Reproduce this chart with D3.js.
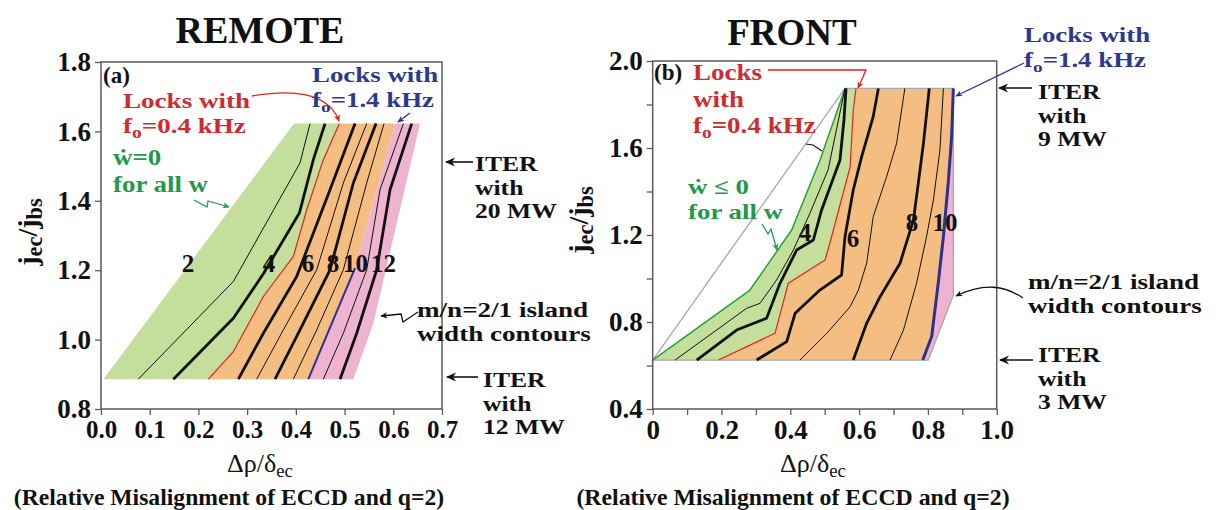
<!DOCTYPE html>
<html><head><meta charset="utf-8">
<script src="https://cdn.jsdelivr.net/npm/d3@7"></script>
<style>body{margin:0;background:#fff}svg{display:block}</style>
</head><body><svg id="c" width="1219" height="510"></svg>
<script>
// ---------------- DATA ----------------
// Panel (a) REMOTE
const remoteXTicks = [0, 0.1, 0.2, 0.3, 0.4, 0.5, 0.6, 0.7];
const remoteXLabels = ["0.0","0.1","0.2","0.3","0.4","0.5","0.6","0.7"];
const remoteYTicks = [0.8, 1.0, 1.2, 1.4, 1.6, 1.8];
const remoteYLabels = ["0.8","1.0","1.2","1.4","1.6","1.8"];
const remoteLeftEdge = [[0.005,0.886],[0.396,1.6225]];
const remoteRed = [[0.2203,0.886],[0.2717,0.9655],[0.3333,1.1242],[0.3948,1.2396],[0.4223,1.3743],[0.4564,1.5186],[0.4893,1.6225]];
const remoteBlueEdge = [[0.4256,0.886],[0.5215,1.206],[0.6036,1.6225]];
const remoteBlueVisible = [[0.4256,0.886],[0.5215,1.206]];
const remoteRightEdge = [[0.5180,0.886],[0.5591,1.0473],[0.6549,1.6225]];
const remoteC1 = [[0.0766,0.886],[0.2717,1.1675],[0.4085,1.509],[0.4291,1.6225]];
const remoteC2 = [[0.1485,0.886],[0.2717,1.0617],[0.3333,1.1896],[0.4072,1.3647],[0.4359,1.5186],[0.4599,1.6225]];
const remoteC3 = [[0.2819,0.886],[0.3333,1.0184],[0.4017,1.1819],[0.4701,1.432],[0.5215,1.6225]];
const remoteC4 = [[0.3196,0.886],[0.3743,1.028],[0.4428,1.2012],[0.4975,1.4513],[0.5454,1.6225]];
const remoteC5 = [[0.3572,0.886],[0.4085,1.028],[0.4701,1.2012],[0.5180,1.4513],[0.5646,1.6225]];
const remoteC6 = [[0.3948,0.886],[0.4428,1.028],[0.4975,1.2012],[0.5454,1.4513],[0.5810,1.6225]];
const remoteC7 = [[0.4564,0.886],[0.4975,1.0184],[0.5454,1.2012],[0.5728,1.432],[0.6207,1.6225]];
const remoteC8 = [[0.4907,0.886],[0.5249,1.0184],[0.5660,1.2012],[0.5933,1.432],[0.6378,1.6225]];
const remoteContourLabels = ["2","4","6","8","10","12"];
const remoteLabelX = [0.1786,0.3449,0.425,0.4763,0.5225,0.5800];
const remoteLabelY = 1.195;

// Panel (b) FRONT
const frontXMajor = [0, 0.2, 0.4, 0.6, 0.8, 1.0];
const frontXLabels = ["0","0.2","0.4","0.6","0.8","1.0"];
const frontXMinor = [0.1, 0.3, 0.5, 0.7, 0.9];
const frontYMajor = [0.4, 0.8, 1.2, 1.6, 2.0];
const frontYLabels = ["0.4","0.8","1.2","1.6","2.0"];
const frontYMinor = [0.6, 1.0, 1.4, 1.8];
const frontGrayEdge = [[0,0.625],[0.559,1.874]];
const frontGreenEdge = [[0,0.625],[0.2828,0.947],[0.404,1.223],[0.4864,1.5448],[0.559,1.874]];
const frontRed = [[0.191,0.625],[0.3555,0.748],[0.394,0.978],[0.501,1.085],[0.52,1.192],[0.574,1.514],[0.583,1.775],[0.591,1.874]];
const frontBlue = [[0.785,0.625],[0.811,0.733],[0.83,0.978],[0.845,1.192],[0.859,1.4375],[0.869,1.652],[0.874,1.874]];
const frontRightEdge = [[0.801,0.625],[0.874,0.924],[0.874,1.874]];
const frontC1 = [[0.065,0.625],[0.273,0.863],[0.312,0.886],[0.36,0.993],[0.409,1.131],[0.457,1.30],[0.51,1.50],[0.559,1.874]];
const frontC2 = [[0.128,0.625],[0.244,0.763],[0.331,0.817],[0.370,0.978],[0.4185,1.131],[0.467,1.177],[0.491,1.315],[0.5445,1.545],[0.556,1.729],[0.562,1.874]];
const frontC3 = [[0.302,0.625],[0.3895,0.71],[0.414,0.84],[0.486,0.947],[0.549,1.016],[0.559,1.192],[0.583,1.407],[0.6075,1.56],[0.641,1.744],[0.656,1.874]];
const frontC4 = [[0.428,0.625],[0.506,0.748],[0.574,0.87],[0.598,0.947],[0.622,1.07],[0.641,1.284],[0.68,1.468],[0.709,1.6215],[0.733,1.874]];
const frontC5 = [[0.583,0.625],[0.622,0.794],[0.661,0.9165],[0.719,1.07],[0.758,1.269],[0.772,1.4375],[0.787,1.6215],[0.804,1.874]];
const frontC6 = [[0.69,0.625],[0.729,0.763],[0.767,0.978],[0.796,1.192],[0.816,1.361],[0.835,1.591],[0.845,1.874]];
const frontContourLabels = ["4","6","8","10"];
const frontLabelX = [0.4427,0.5823,0.7538,0.8497];
const frontLabelY = [1.172,1.145,1.218,1.218];

// ---------------- STYLE ----------------
const FONT = '"Liberation Serif","Times New Roman",serif';
const C = {green:"#c4de9c", orange:"#f4bd82", pink:"#eeb3cf", red:"#e2231a", blue:"#2e3192",
           gEdge:"#25a23a", tRed:"#d12a2f", tBlue:"#2b3a8c", tGreen:"#1f9a48", axis:"#5a5a5a", gray:"#a8a8a8"};

const svg = d3.select("#c");
svg.append("rect").attr("width",1219).attr("height",510).attr("fill","#fff");
const defs = svg.append("defs");
function marker(id, color, w, h){
  defs.append("marker").attr("id",id).attr("viewBox","0 0 10 10").attr("refX",9).attr("refY",5)
    .attr("markerWidth",w).attr("markerHeight",h).attr("markerUnits","userSpaceOnUse").attr("orient","auto")
    .append("path").attr("d","M0,0.5 L10,5 L0,9.5 L3,5 z").attr("fill",color);
}
marker("mRed",C.red,8,7); marker("mBlue",C.blue,8,7); marker("mGreen",C.tGreen,8,7); marker("mBlack","#111",8,7);
marker("mBlackBig","#111",12,10);

// stacked lines, one text element per line, horizontally stretched by sx.
function stack(g, x, y0, rows, dy, o){
  rows.forEach((row,i)=>{
    const t = g.append("text")
      .attr("transform", `translate(${x},${y0+i*dy}) scale(${o.sx||1},1)`)
      .attr("font-family",FONT).attr("font-size",o.size).attr("font-weight",o.weight||"bold")
      .attr("fill",o.fill||"#111").attr("text-anchor",o.anchor||"start");
    let cur = 0;
    row.forEach(s=>{
      const txt = typeof s==="string" ? s : s[0];
      const sh = typeof s==="string" ? 0 : s[1];
      const sf = typeof s==="string" ? 1 : s[2];
      const ts = t.append("tspan").attr("dy", sh-cur).text(txt);
      if (sf!==1) ts.attr("font-size", o.size*sf);
      cur = sh;
    });
  });
}

function panel(cfg){
  const g = svg.append("g");
  const x = d3.scaleLinear().domain(cfg.xd).range(cfg.xr);
  const y = d3.scaleLinear().domain(cfg.yd).range(cfg.yr);
  const line = d3.line().x(d=>x(d[0])).y(d=>y(d[1]));
  const area = pts => line(pts)+"Z";
  cfg.regions.forEach(r=>g.append("path").attr("d",area(r.pts)).attr("fill",r.fill).attr("stroke","none"));
  if (cfg.outline) g.append("path").attr("d",area(cfg.outline)).attr("fill","none").attr("stroke",C.gray).attr("stroke-width",1.3);
  cfg.lines.forEach(l=>g.append("path").attr("d",line(l.pts)).attr("fill","none")
    .attr("stroke",l.color||"#111").attr("stroke-width",l.w).attr("stroke-linejoin","round"));
  cfg.labels.forEach(l=>g.append("text").attr("x",x(l.x)).attr("y",y(l.y)).attr("text-anchor","middle")
    .attr("font-family",FONT).attr("font-weight","bold").attr("font-size",25).attr("fill","#111").text(l.t));
  g.append("rect").attr("x",cfg.xr[0]).attr("y",cfg.yr[1]).attr("width",cfg.xr[1]-cfg.xr[0])
    .attr("height",cfg.yr[0]-cfg.yr[1]).attr("fill","none").attr("stroke",C.axis).attr("stroke-width",1.5);
  const xa = g.append("g").attr("transform",`translate(0,${cfg.yr[0]})`)
    .call(d3.axisBottom(x).tickValues(cfg.xt).tickSize(6).tickPadding(5).tickFormat((d,i)=>cfg.xl[i]));
  const ya = g.append("g").attr("transform",`translate(${cfg.xr[0]},0)`)
    .call(d3.axisLeft(y).tickValues(cfg.yt).tickSize(6).tickPadding(4).tickFormat((d,i)=>cfg.yl[i]));
  if (cfg.xm) g.append("g").attr("transform",`translate(0,${cfg.yr[0]})`).call(d3.axisBottom(x).tickValues(cfg.xm).tickSize(6).tickFormat(""));
  if (cfg.ym) g.append("g").attr("transform",`translate(${cfg.xr[0]},0)`).call(d3.axisLeft(y).tickValues(cfg.ym).tickSize(6).tickFormat(""));
  g.selectAll(".domain").remove();
  g.selectAll(".tick line").attr("stroke",C.axis).attr("stroke-width",1.3);
  xa.selectAll("text").attr("font-family",FONT).attr("font-weight","bold").attr("font-size",cfg.xfs).attr("fill","#111");
  ya.selectAll("text").attr("font-family",FONT).attr("font-weight","bold").attr("font-size",27).attr("fill","#111");
  return {g,x,y};
}

// ---------- Panel (a) ----------
panel({
  xd:[0,0.7], xr:[101,442], yd:[0.8,1.8], yr:[409,62], xfs:25,
  xt:remoteXTicks, xl:remoteXLabels, yt:remoteYTicks, yl:remoteYLabels,
  regions:[
    {pts:[...remoteLeftEdge, ...remoteRed.slice().reverse()], fill:C.green},
    {pts:[...remoteRed, ...remoteBlueEdge.slice().reverse()], fill:C.orange},
    {pts:[...remoteBlueEdge, ...remoteRightEdge.slice().reverse()], fill:C.pink}
  ],
  lines:[
    {pts:remoteC1,w:1},{pts:remoteC2,w:2.8},{pts:remoteRed,w:1.2,color:C.red},
    {pts:remoteC3,w:2.8},{pts:remoteC4,w:1},{pts:remoteC5,w:2.8},{pts:remoteC6,w:1},
    {pts:remoteBlueVisible,w:2,color:C.blue},{pts:remoteC7,w:1},{pts:remoteC8,w:2.8}
  ],
  labels: remoteContourLabels.map((t,i)=>({t, x:remoteLabelX[i], y:remoteLabelY}))
});

// ---------- Panel (b) ----------
panel({
  xd:[0,1], xr:[652.7,996.7], yd:[0.4,2.0], yr:[409,61], xfs:27,
  xt:frontXMajor, xl:frontXLabels, yt:frontYMajor, yl:frontYLabels, xm:frontXMinor, ym:frontYMinor,
  regions:[
    {pts:[...frontGreenEdge, ...frontRed.slice().reverse()], fill:C.green},
    {pts:[...frontRed, ...frontBlue.slice().reverse()], fill:C.orange},
    {pts:[...frontBlue, ...frontRightEdge.slice().reverse()], fill:C.pink}
  ],
  outline:[...frontGrayEdge, frontRightEdge[2], frontRightEdge[1], frontRightEdge[0]],
  lines:[
    {pts:frontGreenEdge,w:1.5,color:C.gEdge},{pts:frontC1,w:1},{pts:frontC2,w:2.8},{pts:frontRed,w:1.2,color:C.red},
    {pts:frontC3,w:2.8},{pts:frontC4,w:1},{pts:frontC5,w:2.8},{pts:frontC6,w:1},{pts:frontBlue,w:3,color:C.blue}
  ],
  labels: frontContourLabels.map((t,i)=>({t, x:frontLabelX[i], y:frontLabelY[i]}))
});

// ---------- Titles & axis titles ----------
const T = svg.append("g");
stack(T, 260, 43, [["REMOTE"]], 0, {size:38, anchor:"middle"});
stack(T, 792, 45, [["FRONT"]], 0, {size:37, anchor:"middle"});
[[260,472],[813,472]].forEach(p=>{
  stack(T, p[0], p[1], [["Δρ/δ",["ec",5,0.72]]], 0, {size:26, weight:"normal", anchor:"middle"});
});
stack(T, 229, 505, [["(Relative Misalignment of ECCD and q=2)"]], 0, {size:24, anchor:"middle", sx:0.985});
stack(T, 793, 505, [["(Relative Misalignment of ECCD and q=2)"]], 0, {size:24, anchor:"middle", sx:0.992});
[[37,232],[588,220]].forEach(p=>{
  T.append("g").attr("transform",`translate(${p[0]},${p[1]}) rotate(-90)`).call(g=>
    stack(g, 0, 0, [["j",["ec",5,0.8],["/j",0,1],["bs",5,0.8]]], 0, {size:28, anchor:"middle"}));
});

// ---------- Annotations panel (a) ----------
const N = svg.append("g");
stack(N, 103, 83, [["(a)"]], 0, {size:23});
stack(N, 123, 108, [["Locks with"], ["f",["o",5,0.72],["=0.4 kHz",0,1]]], 25, {size:22, sx:1.23, fill:C.tRed});
N.append("path").attr("d","M252,96 C300,88 330,96 339,121").attr("fill","none").attr("stroke",C.red).attr("stroke-width",1.3).attr("marker-end","url(#mRed)");
stack(N, 312, 82, [["Locks with"], ["f",["o",5,0.72],["=1.4 kHz",0,1]]], 24.5, {size:21.5, sx:1.25, fill:C.tBlue});
N.append("path").attr("d","M410,113 L398,122").attr("fill","none").attr("stroke",C.blue).attr("stroke-width",1.3).attr("marker-end","url(#mBlue)");
stack(N, 113, 165, [["ẇ=0"], ["for all w"]], 27, {size:24, sx:1.12, fill:C.tGreen});
N.append("path").attr("d","M194,200 L207,207 L208,201 L229,207").attr("fill","none").attr("stroke",C.tGreen).attr("stroke-width",1.3).attr("marker-end","url(#mGreen)");
N.append("path").attr("d","M473,162 L446,162").attr("stroke","#111").attr("stroke-width",1.6).attr("marker-end","url(#mBlackBig)");
stack(N, 475, 171, [["ITER"],["with"],["20 MW"]], 23.5, {size:21, sx:1.22});
N.append("path").attr("d","M478,377 L447,377").attr("stroke","#111").attr("stroke-width",1.6).attr("marker-end","url(#mBlackBig)");
stack(N, 483, 387, [["ITER"],["with"],["12 MW"]], 23.5, {size:21, sx:1.22});
stack(N, 417, 317, [["m/n=2/1 island"],["width contours"]], 24, {size:21.5, sx:1.26});
N.append("path").attr("d","M418,312 L403,322 L401,314 L381,316").attr("fill","none").attr("stroke","#111").attr("stroke-width",1.3).attr("marker-end","url(#mBlack)");

// ---------- Annotations panel (b) ----------
stack(N, 654, 80, [["(b)"]], 0, {size:23});
stack(N, 693, 80, [["Locks"],["with"],["f",["o",5,0.72],["=0.4 kHz",0,1]]], 26.5, {size:23.5, sx:1.15, fill:C.tRed});
N.append("path").attr("d","M768,70 L866,70 L863,77 L858,88").attr("fill","none").attr("stroke",C.red).attr("stroke-width",1.3).attr("marker-end","url(#mRed)");
stack(N, 1024, 42, [["Locks with"],["f",["o",5,0.72],["=1.4 kHz",0,1]]], 24.5, {size:21.5, sx:1.25, fill:C.tBlue});
N.append("path").attr("d","M1024,63 L956,96").attr("fill","none").attr("stroke",C.blue).attr("stroke-width",1.3).attr("marker-end","url(#mBlue)");
stack(N, 688, 194, [["ẇ ≤ 0"],["for all w"]], 24.5, {size:21.5, sx:1.25, fill:C.tGreen});
N.append("path").attr("d","M762,224 L768,234 L771,229 L777,250").attr("fill","none").attr("stroke",C.tGreen).attr("stroke-width",1.3).attr("marker-end","url(#mGreen)");
N.append("path").attr("d","M806,144 L813,145 L822,151").attr("fill","none").attr("stroke","#111").attr("stroke-width",1.2);
N.append("path").attr("d","M1032,88 L999,88").attr("stroke","#111").attr("stroke-width",1.6).attr("marker-end","url(#mBlackBig)");
stack(N, 1038, 99, [["ITER"],["with"],["9 MW"]], 23.5, {size:21, sx:1.22});
N.append("path").attr("d","M1033,360 L1000,360").attr("stroke","#111").attr("stroke-width",1.6).attr("marker-end","url(#mBlackBig)");
stack(N, 1038, 362, [["ITER"],["with"],["3 MW"]], 23.5, {size:21, sx:1.22});
stack(N, 1028, 289, [["m/n=2/1 island"],["width contours"]], 24, {size:21.5, sx:1.26});
N.append("path").attr("d","M1023,298 C1005,286 985,282 956,296").attr("fill","none").attr("stroke","#111").attr("stroke-width",1.3).attr("marker-end","url(#mBlack)");
</script></body></html>
